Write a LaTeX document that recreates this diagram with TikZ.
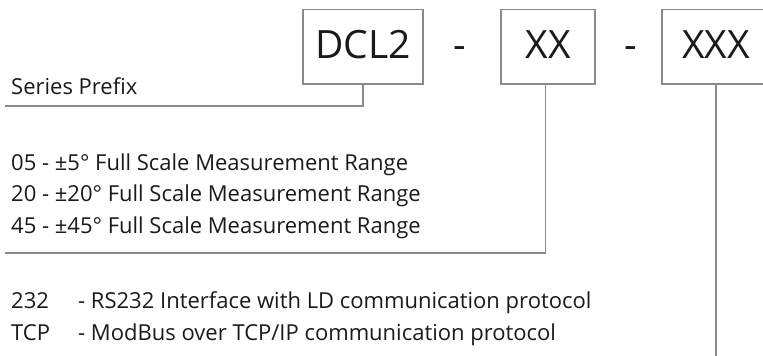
\documentclass[tikz,border=0pt]{standalone}
\usepackage{fontspec}
\setmainfont{Open Sans}
\usetikzlibrary{positioning}
\definecolor{linegray}{HTML}{8A8A8A}
\definecolor{inkdark}{HTML}{1A1A1A}

\begin{document}
\begin{tikzpicture}[x=1pt,y=-1pt]
	\tikzstyle{codebox} = [rectangle, draw=linegray, line width=1.5pt, minimum height=74.5pt, inner sep=0pt, text height=28pt, text depth=4pt, font=\fontsize{39}{39}\selectfont, text=inkdark]
	\tikzstyle{dashsym} = [codebox, draw=none]
	\tikzstyle{keytext} = [anchor=base west, inner sep=0pt, font=\fontsize{22}{22}\selectfont, text=inkdark]
	\tikzstyle{lead} = [draw=linegray, line width=1.5pt]
	\useasboundingbox (0,0) rectangle (763,356);
	\clip (0,0) rectangle (763,356);
	% part number boxes
	\node[codebox, minimum width=120pt](dcl) at (363,46.75){DCL2};
	\node[dashsym](dashA) at (460,46.75){-};
	\node[codebox, minimum width=94pt](xx) at (548,46.75){XX};
	\node[dashsym](dashB) at (631,46.75){-};
	\node[codebox, minimum width=108pt](xxx) at (716,46.75){XXX};
	% legend texts
	\node[keytext](prefix) at (11,94){Series Prefix};
	\node[keytext](range05) at (11,170){05 - ±5° Full Scale Measurement Range};
	\node[keytext](range20) at (11,201.5){20 - ±20° Full Scale Measurement Range};
	\node[keytext](range45) at (11,233){45 - ±45° Full Scale Measurement Range};
	\node[keytext](code232) at (11,308){232};
	\node[keytext](desc232) at (78,308){- RS232 Interface with LD communication protocol};
	\node[keytext](codeTCP) at (11,340){TCP};
	\node[keytext](descTCP) at (78,340){- ModBus over TCP/IP communication protocol};
	% leader lines
	\coordinate (prefixEnd) at (5,106);
	\coordinate (rangeEnd) at (5,253);
	\coordinate (ifaceEnd) at (716,360);
	\draw[lead](dcl.south) |- (prefixEnd);
	\draw[lead]([xshift=-2.5pt]xx.south) |- (rangeEnd);
	\draw[lead](xxx.south) -- (ifaceEnd);
\end{tikzpicture}
\end{document}
